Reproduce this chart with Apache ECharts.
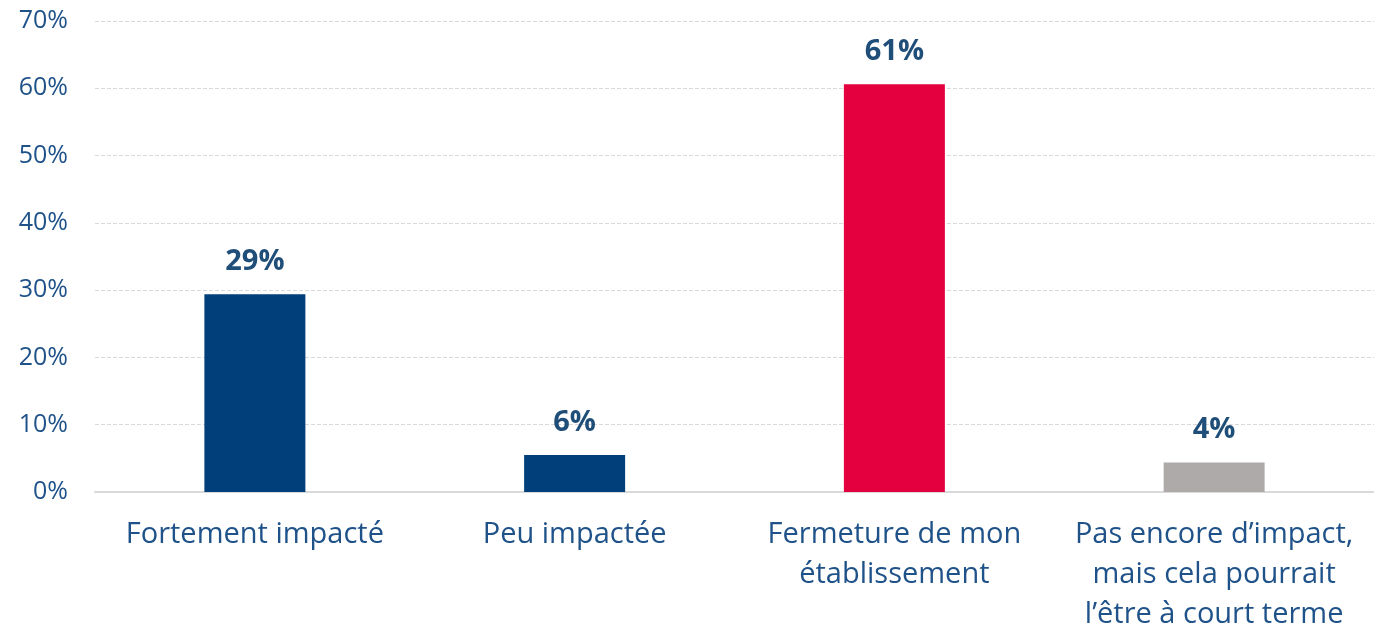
<!DOCTYPE html>
<html>
<head>
<meta charset="utf-8">
<script src="https://cdn.jsdelivr.net/npm/echarts@6/dist/echarts.min.js"></script>
<style>
  html, body { margin: 0; padding: 0; background: #fff; }
  #main { width: 1374px; height: 635px; }
</style>
</head>
<body>
<div id="main"></div>
<script>
// données
var categories = [
  'Fortement impacté',
  'Peu impactée',
  'Fermeture de mon\nétablissement',
  'Pas encore d\u2019impact,\nmais cela pourrait\nl\u2019être à court terme'
];
var values = [29.4, 5.5, 60.6, 4.4];
var labels = ['29%', '6%', '61%', '4%'];
var colors = ['#003f7a', '#003f7a', '#e4003f', '#aeaaaa'];
var yTicks = [0, 10, 20, 30, 40, 50, 60, 70];

var myChart = echarts.init(document.getElementById('main'));

myChart.setOption({
  animation: false,
  grid: { left: 95, right: 0, top: 21, bottom: 138, containLabel: false },
  xAxis: {
    type: 'category',
    data: categories,
    axisLine: { lineStyle: { color: '#d9d9d9', width: 2 } },
    axisTick: { show: false },
    axisLabel: {
      color: '#1f5289',
      fontFamily: 'Open Sans',
      fontSize: 29,
      lineHeight: 40,
      margin: 23,
      interval: 0
    }
  },
  yAxis: {
    type: 'value',
    min: yTicks[0],
    max: yTicks[yTicks.length - 1],
    interval: 10,
    axisLine: { show: false },
    axisTick: { show: false },
    splitLine: { lineStyle: { color: '#d9d9d9', type: 'dashed', width: 1 } },
    axisLabel: {
      color: '#1f5289',
      fontFamily: 'Open Sans',
      fontSize: 25,
      margin: 27,
      formatter: '{value}%'
    }
  },
  series: [{
    type: 'bar',
    barWidth: 101,
    data: values.map(function (v, i) {
      return { value: v, itemStyle: { color: colors[i] } };
    }),
    label: {
      show: true,
      position: 'top',
      distance: 18,
      color: '#1f4e79',
      fontFamily: 'Open Sans',
      fontWeight: 'bold',
      fontSize: 29,
      formatter: function (p) { return labels[p.dataIndex]; }
    }
  }]
});
</script>
</body>
</html>
